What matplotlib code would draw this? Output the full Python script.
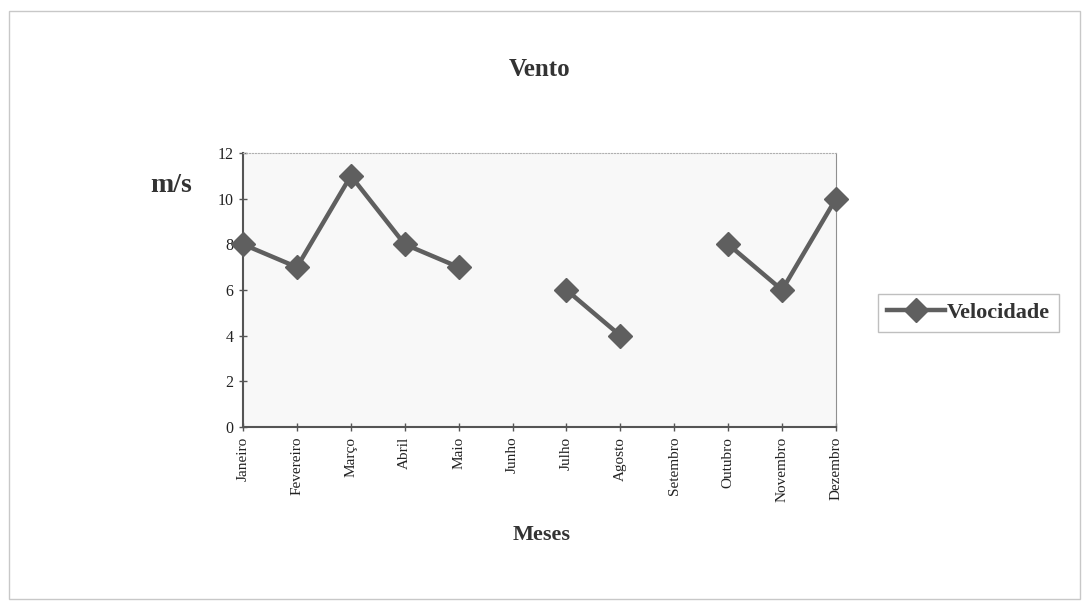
import matplotlib.pyplot as plt
import numpy as np
from matplotlib.patches import Rectangle

months = ["Janeiro", "Fevereiro", "Março", "Abril", "Maio", "Junho",
          "Julho", "Agosto", "Setembro", "Outubro", "Novembro", "Dezembro"]
velocidade = [8, 7, 11, 8, 7, np.nan, 6, 4, np.nan, 8, 6, 10]
yticks = [0, 2, 4, 6, 8, 10, 12]

plt.rcParams["font.family"] = ["Liberation Serif", "DejaVu Serif"]

fig = plt.figure(figsize=(10.84, 6.03), dpi=100)
fig.patch.set_facecolor("white")

# outer chart border
fig.patches.append(Rectangle((0.008, 0.006), 0.988, 0.975, transform=fig.transFigure,
                             fill=False, edgecolor="#c8c8c8", linewidth=1.0))

ax = fig.add_axes([0.2242, 0.2919, 0.547, 0.4544])
ax.set_facecolor("#f8f8f8")
x = np.arange(len(months))
line_color = "#5f5f5f"
ax.plot(x, velocidade, color=line_color, linewidth=3.2, marker="D", markersize=12,
        markerfacecolor=line_color, markeredgecolor=line_color, label="Velocidade",
        clip_on=False, zorder=3)

ax.set_xlim(0, len(months) - 1)
ax.set_ylim(0, 12)
ax.set_yticks(yticks)
ax.set_yticklabels([str(v) for v in yticks], fontsize=11.5, color="#222222")
ax.set_xticks(x)
ax.set_xticklabels(months, rotation=90, fontsize=11, color="#222222", va="top")
ax.tick_params(axis="both", direction="inout", length=6, width=1, color="#555555", pad=4)

for side in ["left", "bottom"]:
    ax.spines[side].set_color("#555555")
    ax.spines[side].set_linewidth(1.5)
ax.spines["top"].set_color("#b0b0b0")
ax.spines["top"].set_linestyle(":")
ax.spines["right"].set_color("#909090")

fig.text(0.498, 0.885, "Vento", ha="center", va="center", fontsize=18,
         fontweight="bold", color="#333333")
fig.text(0.158, 0.693, "m/s", ha="center", va="center", fontsize=20,
         fontweight="bold", color="#333333")
fig.text(0.500, 0.112, "Meses", ha="center", va="center", fontsize=16,
         fontweight="bold", color="#333333")

leg = fig.legend(loc="center left", bbox_to_anchor=(0.806, 0.481), frameon=True,
                 fancybox=False, prop={"size": 16, "weight": "bold"},
                 handlelength=2.6, borderpad=0.4, handletextpad=0.1,
                 borderaxespad=0.2)
leg.get_frame().set_edgecolor("#b0b0b0")
leg.get_frame().set_linewidth(1.0)
for t in leg.get_texts():
    t.set_color("#333333")

fig.savefig("out.png", dpi=100, facecolor="white")
